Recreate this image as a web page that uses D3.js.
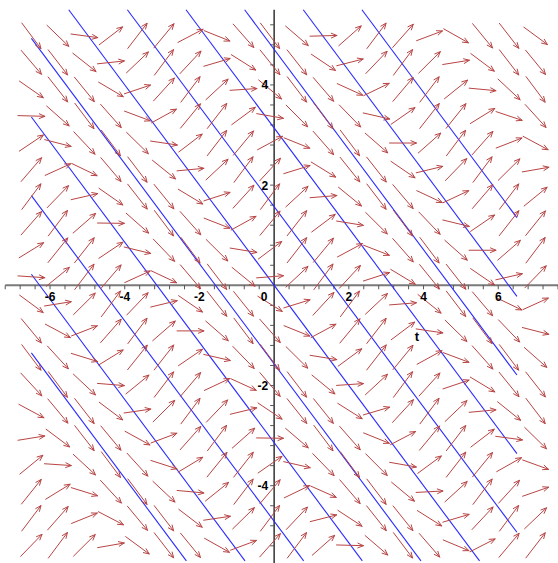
<!DOCTYPE html>
<html>
<head>
<meta charset="utf-8">
<script src="https://cdn.jsdelivr.net/npm/d3@7"></script>
<style>
  html, body { margin: 0; padding: 0; background: #fff; }
  svg { display: block; }
  .lbl { font-family: "Liberation Sans", Arial, sans-serif; font-weight: bold; font-size: 12px; fill: #000; }
</style>
</head>
<body>
<div id="chart"></div>
<script>
// grid of direction arrows (t across, y down the rows)
const tGrid = [-6.5, -5.79, -5.08, -4.37, -3.66, -2.95, -2.24, -1.53, -0.82, -0.11,
  0.61, 1.32, 2.03, 2.74, 3.45, 4.16, 4.87, 5.58, 6.29, 7.0];
const yGrid = [4.98, 4.45, 3.91, 3.38, 2.84, 2.31, 1.77, 1.24, 0.70, 0.17,
  -0.37, -0.91, -1.44, -1.98, -2.51, -3.05, -3.58, -4.12, -4.65, -5.19];

// slope dy/dt of each arrow, one row per yGrid value
const slopes = [
  [-1.0, -0.72, -0.10, 0.57, 0.97, 0.90, 0.39, -0.30, -0.85, -0.99, -0.64, 0.02, 0.66, 0.99, 0.84, 0.28, -0.42, -0.91, -0.96, -0.55],
  [-0.88, -0.97, -0.59, 0.08, 0.71, 1.0, 0.80, 0.22, -0.47, -0.93, -0.95, -0.50, 0.19, 0.78, 1.0, 0.74, 0.12, -0.56, -0.97, -0.91],
  [-0.52, -0.95, -0.92, -0.44, 0.25, 0.82, 0.99, 0.69, 0.05, -0.62, -0.98, -0.87, -0.34, 0.36, 0.88, 0.98, 0.60, -0.07, -0.70, -1.0],
  [-0.02, -0.66, -0.99, -0.84, -0.28, 0.41, 0.91, 0.96, 0.55, -0.13, -0.75, -1.0, -0.77, -0.17, 0.52, 0.95, 0.93, 0.46, -0.25, -0.82],
  [0.50, -0.19, -0.79, -1.0, -0.73, -0.11, 0.57, 0.97, 0.90, 0.40, -0.30, -0.85, -0.99, -0.65, 0.0, 0.66, 0.99, 0.84, 0.29, -0.40],
  [0.87, 0.34, -0.36, -0.88, -0.98, -0.60, 0.07, 0.70, 1.0, 0.81, 0.23, -0.46, -0.93, -0.95, -0.51, 0.18, 0.77, 1.0, 0.74, 0.13],
  [1.0, 0.77, 0.17, -0.52, -0.95, -0.92, -0.45, 0.24, 0.82, 1.0, 0.69, 0.06, -0.61, -0.98, -0.88, -0.35, 0.35, 0.87, 0.98, 0.61],
  [0.85, 0.99, 0.65, -0.01, -0.66, -0.99, -0.84, -0.29, 0.41, 0.90, 0.96, 0.56, -0.12, -0.74, -1.0, -0.78, -0.18, 0.51, 0.95, 0.93],
  [0.46, 0.93, 0.95, 0.50, -0.18, -0.78, -1.0, -0.74, -0.12, 0.56, 0.96, 0.90, 0.40, -0.29, -0.85, -0.99, -0.66, 0.0, 0.65, 0.99],
  [-0.05, 0.61, 0.98, 0.87, 0.34, -0.35, -0.88, -0.98, -0.61, 0.06, 0.70, 1.0, 0.81, 0.24, -0.45, -0.92, -0.95, -0.51, 0.17, 0.77],
  [-0.55, 0.12, 0.74, 1.0, 0.78, 0.18, -0.51, -0.95, -0.93, -0.46, 0.23, 0.81, 1.0, 0.70, 0.06, -0.60, -0.98, -0.88, -0.36, 0.34],
  [-0.90, -0.40, 0.29, 0.85, 0.99, 0.65, 0.0, -0.65, -0.99, -0.85, -0.30, 0.40, 0.90, 0.97, 0.56, -0.11, -0.73, -1.0, -0.78, -0.19],
  [-0.99, -0.81, -0.23, 0.46, 0.93, 0.95, 0.51, -0.17, -0.77, -1.0, -0.74, -0.12, 0.55, 0.96, 0.91, 0.41, -0.28, -0.84, -0.99, -0.66],
  [-0.81, -1.0, -0.70, -0.06, 0.61, 0.98, 0.88, 0.35, -0.34, -0.87, -0.98, -0.61, 0.05, 0.69, 1.0, 0.82, 0.25, -0.45, -0.92, -0.95],
  [-0.40, -0.90, -0.96, -0.56, 0.11, 0.74, 1.0, 0.78, 0.18, -0.50, -0.94, -0.93, -0.47, 0.22, 0.81, 1.0, 0.71, 0.07, -0.60, -0.98],
  [0.12, -0.56, -0.96, -0.90, -0.41, 0.28, 0.84, 0.99, 0.66, -0.01, -0.64, -0.99, -0.85, -0.30, 0.39, 0.90, 0.97, 0.57, -0.10, -0.73],
  [0.61, -0.05, -0.69, -1.0, -0.82, -0.24, 0.45, 0.92, 0.95, 0.52, -0.17, -0.77, -1.0, -0.75, -0.13, 0.55, 0.96, 0.91, 0.42, -0.27],
  [0.93, 0.46, -0.23, -0.81, -1.0, -0.70, -0.07, 0.60, 0.98, 0.88, 0.36, -0.33, -0.87, -0.98, -0.62, 0.04, 0.68, 0.99, 0.82, 0.26],
  [0.99, 0.85, 0.30, -0.39, -0.90, -0.97, -0.57, 0.11, 0.73, 1.0, 0.79, 0.19, -0.49, -0.94, -0.93, -0.47, 0.22, 0.80, 1.0, 0.71],
  [0.77, 1.0, 0.74, 0.13, -0.55, -0.96, -0.91, -0.42, 0.28, 0.84, 0.99, 0.66, -0.02, -0.64, -0.99, -0.86, -0.31, 0.38, 0.89, 0.97]
];

// blue lines y = -t + c, drawn for t in [lineT0, lineT1]
const lineIntercepts = [-7.85, -6.28, -4.71, -3.14, -1.57, 0, 1.57, 3.14, 4.71, 6.28, 7.85];
const lineT0 = -6.5, lineT1 = 6.5;

const xTickLabels = [-6, -4, -2, 0, 2, 4, 6];
const yTickLabels = [-4, -2, 2, 4];

const W = 558, H = 563;
const xScale = d3.scaleLinear().domain([-7.34, 7.6]).range([0, W]);
const yScale = d3.scaleLinear().domain([5.695, -5.543]).range([0, H]);
const yClip = [-5.5, 5.5];

const svg = d3.select('#chart').append('svg')
  .attr('width', W).attr('height', H);
svg.append('rect').attr('width', W).attr('height', H).attr('fill', '#fff');

// axes
const x0 = xScale(0), y0 = yScale(0);
svg.append('line')
  .attr('x1', xScale(-7.2)).attr('x2', W).attr('y1', y0).attr('y2', y0)
  .attr('stroke', '#7a7a7a').attr('stroke-width', 2);
svg.append('line')
  .attr('x1', x0).attr('x2', x0).attr('y1', yScale(5.5)).attr('y2', H)
  .attr('stroke', '#333').attr('stroke-width', 1.5);

// minor ticks every 0.4
const xt = d3.range(-18, 20).map(k => k * 0.4).filter(v => Math.abs(v) > 1e-9);
svg.append('g').selectAll('line').data(xt).join('line')
  .attr('x1', d => xScale(d)).attr('x2', d => xScale(d))
  .attr('y1', y0).attr('y2', y0 + 4)
  .attr('stroke', '#555').attr('stroke-width', 1);
const yt = d3.range(-13, 14).map(k => k * 0.4).filter(v => Math.abs(v) > 1e-9);
svg.append('g').selectAll('line').data(yt).join('line')
  .attr('x1', x0 - 4).attr('x2', x0)
  .attr('y1', d => yScale(d)).attr('y2', d => yScale(d))
  .attr('stroke', '#555').attr('stroke-width', 1);

// blue lines clipped to the y view
const segs = lineIntercepts.map(c => {
  let ta = Math.max(lineT0, c - yClip[1]);
  let tb = Math.min(lineT1, c - yClip[0]);
  return [[ta, c - ta], [tb, c - tb]];
}).filter(s => s[0][0] < s[1][0]);
svg.append('g').selectAll('line').data(segs).join('line')
  .attr('x1', d => xScale(d[0][0])).attr('y1', d => yScale(d[0][1]))
  .attr('x2', d => xScale(d[1][0])).attr('y2', d => yScale(d[1][1]))
  .attr('stroke', '#2a2aff').attr('stroke-width', 1.1);

// arrows
const L = 0.72, head = 6, spread = 0.4;
const arrows = [];
yGrid.forEach((yv, j) => {
  tGrid.forEach((tv, i) => {
    const m = slopes[j][i];
    const dt = L / Math.sqrt(1 + m * m) / 2;
    arrows.push({
      x1: xScale(tv - dt), y1: yScale(yv - m * dt),
      x2: xScale(tv + dt), y2: yScale(yv + m * dt)
    });
  });
});
const ag = svg.append('g').attr('stroke', '#b84444').attr('stroke-width', 1)
  .attr('fill', 'none').attr('stroke-linecap', 'round');
ag.selectAll('path').data(arrows).join('path')
  .attr('d', a => {
    const th = Math.atan2(a.y2 - a.y1, a.x2 - a.x1);
    const b1x = a.x2 - head * Math.cos(th - spread), b1y = a.y2 - head * Math.sin(th - spread);
    const b2x = a.x2 - head * Math.cos(th + spread), b2y = a.y2 - head * Math.sin(th + spread);
    return `M${a.x1},${a.y1}L${a.x2},${a.y2}M${b1x},${b1y}L${a.x2},${a.y2}L${b2x},${b2y}`;
  });

// tick labels
svg.append('g').selectAll('text').data(xTickLabels).join('text')
  .attr('class', 'lbl')
  .attr('x', d => d === 0 ? x0 - 10 : xScale(d))
  .attr('y', y0 + 16)
  .attr('text-anchor', 'middle')
  .text(d => d);
svg.append('g').selectAll('text').data(yTickLabels).join('text')
  .attr('class', 'lbl')
  .attr('x', x0 - 6)
  .attr('y', d => yScale(d) + 4.5)
  .attr('text-anchor', 'end')
  .text(d => d);

// axis name
svg.append('text').attr('class', 'lbl')
  .attr('x', xScale(3.82)).attr('y', y0 + 56)
  .attr('text-anchor', 'middle').style('font-size', '13px')
  .text('t');
</script>
</body>
</html>
